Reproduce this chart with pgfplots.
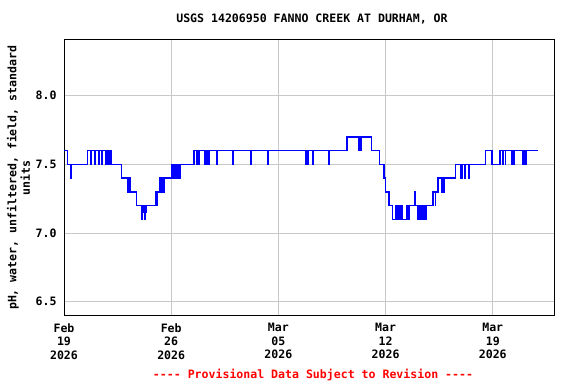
\documentclass[border=0pt]{standalone}
\usepackage{fontspec}
\setmonofont{DejaVu Sans Mono}
\renewcommand{\familydefault}{\ttdefault}
\usepackage{pgfplots}
\pgfplotsset{compat=1.18}
\definecolor{gridgray}{RGB}{200,200,200}
\definecolor{usgsblue}{RGB}{0,0,255}
\definecolor{usgsred}{RGB}{255,0,0}
\newcommand{\lblfont}{\fontsize{11.6}{13.5}\selectfont\bfseries}
\pgfplotstableread{
d v
0 7.6
0.22 7.5
0.45 7.4
0.5 7.5
1.52 7.6
1.73 7.5
1.76 7.6
2.01 7.5
2.04 7.6
2.24 7.5
2.27 7.6
2.30 7.5
2.33 7.6
2.46 7.5
2.48 7.6
2.72 7.5
2.76 7.6
2.80 7.5
2.84 7.6
2.88 7.5
2.92 7.6
2.96 7.5
3.00 7.6
3.07 7.5
3.76 7.4
4.13 7.3
4.16 7.4
4.20 7.3
4.24 7.4
4.28 7.3
4.31 7.4
4.33 7.3
4.74 7.2
5.09 7.1
5.12 7.2
5.16 7.15
5.19 7.2
5.23 7.15
5.27 7.1
5.30 7.2
5.34 7.15
5.37 7.2
5.96 7.3
5.98 7.2
6.02 7.3
6.05 7.2
6.09 7.3
6.22 7.4
6.26 7.3
6.30 7.4
6.34 7.3
6.38 7.4
6.42 7.3
6.46 7.4
6.50 7.3
6.53 7.4
7.02 7.5
7.05 7.4
7.08 7.5
7.11 7.4
7.14 7.5
7.17 7.4
7.20 7.5
7.23 7.4
7.26 7.5
7.29 7.4
7.32 7.5
7.35 7.4
7.38 7.5
7.41 7.4
7.44 7.5
7.47 7.4
7.50 7.5
7.53 7.4
7.56 7.5
7.59 7.4
7.62 7.5
8.50 7.6
8.66 7.5
8.68 7.6
8.80 7.5
8.82 7.6
9.20 7.5
9.23 7.6
9.26 7.5
9.29 7.6
9.32 7.5
9.35 7.6
9.38 7.5
9.41 7.6
9.44 7.5
9.47 7.6
10.00 7.5
10.03 7.6
11.04 7.5
11.06 7.6
12.18 7.5
12.20 7.6
13.29 7.5
13.31 7.6
15.79 7.5
15.82 7.6
15.90 7.5
15.94 7.6
16.26 7.5
16.28 7.6
17.31 7.5
17.33 7.6
18.49 7.7
19.26 7.6
19.30 7.7
19.34 7.6
19.42 7.7
20.09 7.6
20.61 7.5
20.89 7.4
21.00 7.3
21.22 7.2
21.45 7.1
21.64 7.2
21.67 7.1
21.70 7.2
21.74 7.1
21.77 7.2
21.81 7.1
21.92 7.2
21.95 7.1
21.99 7.2
22.03 7.1
22.07 7.2
22.10 7.1
22.35 7.2
22.38 7.1
22.42 7.2
22.46 7.1
22.50 7.2
22.53 7.1
22.57 7.2
22.93 7.3
22.96 7.2
23.09 7.1
23.12 7.2
23.16 7.1
23.20 7.2
23.24 7.1
23.28 7.2
23.31 7.1
23.44 7.2
23.48 7.1
23.52 7.2
23.56 7.1
23.60 7.2
23.63 7.1
23.66 7.2
24.09 7.3
24.25 7.2
24.28 7.3
24.42 7.4
24.64 7.3
24.67 7.4
24.70 7.3
24.73 7.4
24.77 7.3
24.80 7.4
24.83 7.3
24.86 7.4
25.57 7.5
25.90 7.4
25.93 7.5
25.96 7.4
25.99 7.5
26.02 7.4
26.04 7.5
26.16 7.4
26.18 7.5
26.44 7.4
26.46 7.5
27.53 7.6
27.94 7.5
28.44 7.6
28.50 7.5
28.52 7.6
28.64 7.5
28.66 7.6
28.83 7.5
28.85 7.6
29.24 7.5
29.27 7.6
29.30 7.5
29.33 7.6
29.36 7.5
29.39 7.6
29.96 7.5
29.99 7.6
30.04 7.5
30.07 7.6
30.18 7.5
30.20 7.6
30.94 7.6
}\phdata
\begin{document}
\begin{tikzpicture}
\useasboundingbox (0,0) rectangle (576bp,384bp);
\begin{axis}[
  at={(64bp,68bp)}, anchor=south west, scale only axis,
  width=490bp, height=276.5bp,
  xmin=0, xmax=32, ymin=6.396, ymax=8.409,
  xtick={0,7,14,21,28},
  xticklabels={Feb\\19\\2026, Feb\\26\\2026, Mar\\05\\2026, Mar\\12\\2026, Mar\\19\\2026},
  ytick={6.5,7.0,7.5,8.0},
  yticklabel={\pgfmathprintnumber[fixed,fixed zerofill,precision=1]{\tick}},
  /pgf/number format/assume math mode=true,
  major tick length=0pt,
  grid=major,
  grid style={gridgray, line width=1bp},
  axis line style={black, line width=1bp},
  tick label style={font=\lblfont},
  xticklabel style={align=center, yshift=-4bp},
  yticklabel style={xshift=-4bp},
  ylabel={pH, water, unfiltered, field, standard\\units},
  ylabel style={font=\lblfont, align=center, at={(axis description cs:-0.0929,0.5)}, anchor=center},
  clip=true,
]
\addplot[const plot, usgsblue, line width=1.4bp] table[x=d, y=v] {\phdata};
\end{axis}
\node[font=\lblfont] at (312bp,365bp) {USGS 14206950 FANNO CREEK AT DURHAM, OR};
\node[font=\lblfont, text=usgsred] at (313bp,9bp) {{-}{-}{-}{-} Provisional Data Subject to Revision {-}{-}{-}{-}};
\end{tikzpicture}
\end{document}
